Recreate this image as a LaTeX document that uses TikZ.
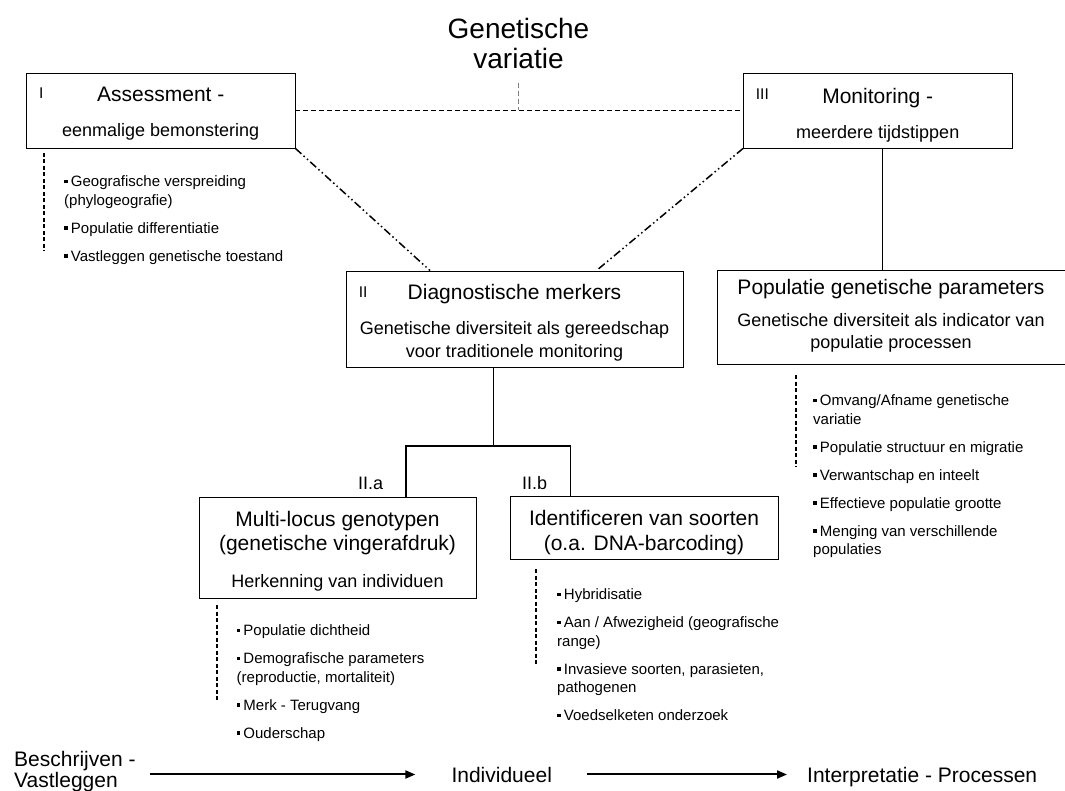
\documentclass[tikz,border=0pt]{standalone}
\usepackage{fontspec}
\setmainfont{Liberation Sans}
\usetikzlibrary{arrows.meta,positioning}
\newcommand{\sqbullet}{\rule[0.22em]{0.25em}{0.25em}\hspace{0.2em}}

\begin{document}
\begin{tikzpicture}[
  x=1pt, y=-1pt,
  box/.style={draw, line width=0.9pt, inner sep=0pt},
  head/.style={anchor=base, inner sep=0pt, font=\fontsize{21}{25}\selectfont},
  sub/.style={anchor=base, inner sep=0pt, font=\fontsize{18}{22}\selectfont},
  numeral/.style={anchor=base west, inner sep=0pt, font=\fontsize{15.5}{18}\selectfont},
  items/.style={anchor=north west, align=left, inner sep=0pt, font=\fontsize{15}{18.5}\selectfont},
  tie/.style={line width=1.4pt, dash pattern=on 5pt off 3pt},
  dashdotdot/.style={line width=1.5pt, dash pattern=on 8pt off 3pt on 1.5pt off 3pt on 1.5pt off 3pt},
  listbar/.style={line width=1.6pt, dash pattern=on 4pt off 2.5pt},
  link/.style={line width=0.9pt},
  forkline/.style={line width=1.6pt},
  flow/.style={-{Triangle[length=10pt,width=8pt]}, line width=2pt}
]
\useasboundingbox (0,0) rectangle (1065,791);

% Title
\node[anchor=north, align=center, inner sep=0pt, font=\fontsize{28}{30}\selectfont] (title) at (518.5,17.6) {Genetische\\variatie};

% Boxes
\node[box, minimum width=268.5, minimum height=75] (assess) at (160.75,110.5) {};
\node[box, minimum width=268.5, minimum height=75] (monitor) at (877.75,110.5) {};
\node[box, minimum width=337, minimum height=96] (diag) at (514.5,319) {};
\node[box, minimum width=351, minimum height=93.5] (popgen) at (892.5,317.25) {};
\node[box, minimum width=277, minimum height=101] (multi) at (337.5,547.5) {};
\node[box, minimum width=268, minimum height=63] (species) at (644,527.5) {};

% Box texts
\node[numeral] (assess-n) at (39,98.5) {I};
\node[head] (assess-h) at (160.75,102) {Assessment -};
\node[sub] (assess-s) at (160.75,136.5) {eenmalige bemonstering};

\node[numeral] (monitor-n) at (755.7,99.5) {III};
\node[head] (monitor-h) at (877.75,103.5) {Monitoring -};
\node[sub] (monitor-s) at (877.75,138.5) {meerdere tijdstippen};

\node[numeral] (diag-n) at (358.7,297.5) {II};
\node[head] (diag-h) at (514.5,299.5) {Diagnostische merkers};
\node[sub, anchor=north, align=center, font=\fontsize{18}{23}\selectfont] (diag-s) at (514.5,321.4)
  {Genetische diversiteit als gereedschap\\voor traditionele monitoring};

\node[head] (popgen-h) at (891,294.5) {Populatie genetische parameters};
\node[sub, anchor=north, align=center] (popgen-s) at (891,313.4)
  {Genetische diversiteit als indicator van\\populatie processen};

\node[head, anchor=north, align=center, font=\fontsize{21}{24.5}\selectfont] (multi-h) at (337.5,510.7)
  {Multi-locus genotypen\\(genetische vingerafdruk)};
\node[sub] (multi-s) at (337.5,587.5) {Herkenning van individuen};

\node[head, anchor=north, align=center] (species-h) at (644,510.2)
  {Identificeren van soorten\\(o.a. DNA-barcoding)};

\node[numeral, font=\fontsize{18}{21}\selectfont] (multi-n) at (358,489.5) {II.a};
\node[numeral, font=\fontsize{18}{21}\selectfont] (species-n) at (522,489.5) {II.b};

% Connectors
\draw[tie] (assess) -- (monitor);
\draw[tie, line width=1pt, gray] ([yshift=-14pt]title.south) -- (title.south |- assess.east);
\draw[dashdotdot] (assess.south east) -- ([xshift=-84.5pt]diag.north);
\draw[dashdotdot] (monitor.south west) -- ([xshift=82pt]diag.north);
\draw[link] ([xshift=4.25pt]monitor.south) -- ([xshift=4.25pt]monitor.south |- popgen.north);
\coordinate (fork) at (493,446);
\draw[link] ([xshift=-21.5pt]diag.south) -- (fork);
\draw[forkline] ([xshift=68.5pt]multi.north) |- (fork) -| ([xshift=-73.5pt]species.north);

% Lists
\draw[listbar] (44,153) -- (44,251);
\node[items] (list-assess) at (64,175.5)
  {\sqbullet Geografische verspreiding\\(phylogeografie)\\[9.5pt]
   \sqbullet Populatie differentiatie\\[9.5pt]
   \sqbullet Vastleggen genetische toestand};

\draw[listbar] (796,375) -- (796,467);
\node[items] (list-popgen) at (813,394.5)
  {\sqbullet Omvang/Afname genetische\\variatie\\[9.5pt]
   \sqbullet Populatie structuur en migratie\\[9.5pt]
   \sqbullet Verwantschap en inteelt\\[9.5pt]
   \sqbullet Effectieve populatie grootte\\[9.5pt]
   \sqbullet Menging van verschillende\\populaties};

\draw[listbar] (217,605) -- (217,700);
\node[items] (list-multi) at (236.5,624.5)
  {\sqbullet Populatie dichtheid\\[9.5pt]
   \sqbullet Demografische parameters\\(reproductie, mortaliteit)\\[9.5pt]
   \sqbullet Merk - Terugvang\\[9.5pt]
   \sqbullet Ouderschap};

\draw[listbar] (536,569) -- (536,664);
\node[items] (list-species) at (557,588.5)
  {\sqbullet Hybridisatie\\[9.5pt]
   \sqbullet Aan / Afwezigheid (geografische\\range)\\[9.5pt]
   \sqbullet Invasieve soorten, parasieten,\\pathogenen\\[9.5pt]
   \sqbullet Voedselketen onderzoek};

% Bottom axis
\node[anchor=north west, align=left, inner sep=0pt, font=\fontsize{21}{21.5}\selectfont] (describe) at (14,751)
  {Beschrijven -\\Vastleggen};
\node[head] (indiv) at (501.75,782) {Individueel};
\node[head, anchor=base west] (interp) at (807,782) {Interpretatie - Processen};
\draw[flow] ([xshift=14pt]describe.east |- indiv) -- ([xshift=-36pt]indiv.west);
\draw[flow] ([xshift=34.5pt]indiv.east) -- ([xshift=-20pt]interp.west |- indiv);

\end{tikzpicture}
\end{document}
